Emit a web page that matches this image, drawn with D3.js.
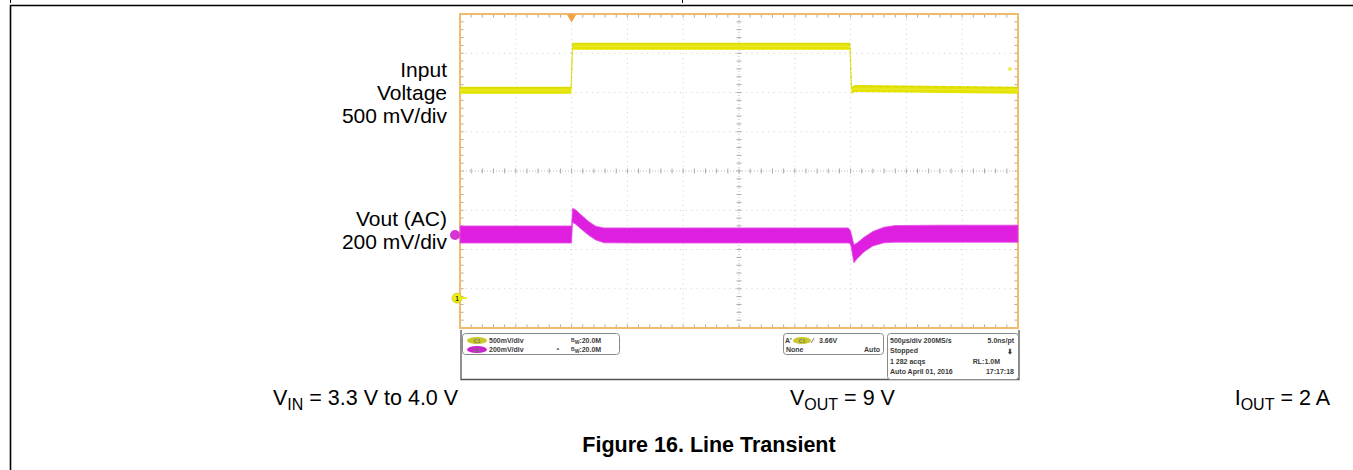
<!DOCTYPE html>
<html><head><meta charset="utf-8">
<script src="https://cdn.jsdelivr.net/npm/d3@7/dist/d3.min.js"></script>
<style>
html,body{margin:0;padding:0;background:#fff;}
svg{display:block;}
text{font-family:"Liberation Sans",Arial,sans-serif;}
</style></head>
<body>
<svg id="chart" width="1353" height="470"></svg>
<script>
// ---------------- DATA ----------------
// time axis: 500 us/div, trigger at t = 0
const timeTicksUs = [-1000,-500,0,500,1000,1500,2000,2500,3000,3500,4000];
const divTicks = [-4,-3,-2,-1,0,1,2,3,4];
// Channel 1: input voltage (500 mV/div)
const ch1TimeUs = [-1000, -4, 8, 2494, 2508, 2540, 4000];
const ch1Volts  = [3.30, 3.30, 3.86, 3.86, 3.30, 3.32, 3.30];
// Channel 2: Vout AC coupled (200 mV/div), noise envelope
const ch2TimeUs = [-1000, -6, 0, 8, 36, 90, 150, 215, 290, 600, 1200, 1800, 2480, 2500, 2530, 2560, 2620, 2700, 2800, 2900, 3300, 4000];
const ch2UpperMv = [46, 46, 46, 136, 128, 100, 70, 45, 36, 36, 36, 36, 36, 20, -50, -40, -12, 18, 40, 48, 50, 50];
const ch2LowerMv = [-41, -41, -41, 64, 55, 28, 0, -25, -40, -41, -41, -41, -41, -46, -142, -120, -86, -56, -40, -37, -37, -37];
// channel settings
const ch1Scale = 0.5, ch1Ref = 3.30, ch1Pos = 2.06;   // V/div, V at position, div
const ch2Scale = 200, ch2Pos = -1.63;                 // mV/div, div
const ch1MarkerDiv = -3.24;
const trigLevelDiv = 2.6;
// text
const leftLabels1 = ["Input", "Voltage", "500 mV/div"];
const leftLabels2 = ["Vout (AC)", "200 mV/div"];
const caption = "Figure 16. Line Transient";

// ---------------- LAYOUT ----------------
const svg = d3.select("#chart");
const x = d3.scaleLinear().domain([-1000, 4000]).range([460, 1018]);
const y = d3.scaleLinear().domain([-4, 4]).range([328, 14]);
const X0 = x.range()[0], X1 = x.range()[1], Y0 = y.range()[1], Y1 = y.range()[0];

// outer figure frame
svg.append("path").attr("d", `M10.5,470 V5.5 H1353`).attr("fill","none").attr("stroke","#000").attr("stroke-width",1.6);
svg.append("line").attr("x1",10.5).attr("x2",10.5).attr("y1",0).attr("y2",3).attr("stroke","#000");
svg.append("line").attr("x1",682.5).attr("x2",682.5).attr("y1",0).attr("y2",3).attr("stroke","#000");

const g = svg.append("g");
// graticule grid (dotted)
timeTicksUs.slice(1,-1).forEach(t => {
  if (t === 1500) return;
  g.append("line").attr("x1",x(t)).attr("x2",x(t)).attr("y1",Y0).attr("y2",Y1)
   .attr("stroke","#cfcfcf").attr("stroke-width",1).attr("stroke-dasharray","1,3.9");
});
divTicks.slice(1,-1).forEach(d => {
  if (d === 0) return;
  g.append("line").attr("x1",X0).attr("x2",X1).attr("y1",y(d)).attr("y2",y(d))
   .attr("stroke","#cfcfcf").attr("stroke-width",1).attr("stroke-dasharray","1,4.5");
});
// center axes with minor ticks
const cx = x(1500), cy = y(0);
g.append("line").attr("x1",cx).attr("x2",cx).attr("y1",Y0).attr("y2",Y1).attr("stroke","#bbb").attr("stroke-dasharray","1,2");
g.append("line").attr("x1",X0).attr("x2",X1).attr("y1",cy).attr("y2",cy).attr("stroke","#bbb").attr("stroke-dasharray","1,2");
const xMinor = d3.range(-1000, 4001, 100);
const yMinor = d3.range(-4, 4.001, 0.2);
xMinor.forEach(t => {
  g.append("line").attr("x1",x(t)).attr("x2",x(t)).attr("y1",cy-2.5).attr("y2",cy+2.5).attr("stroke","#aaa");
  g.append("line").attr("x1",x(t)).attr("x2",x(t)).attr("y1",Y0).attr("y2",Y0+3.5).attr("stroke","#b9a98a");
  g.append("line").attr("x1",x(t)).attr("x2",x(t)).attr("y1",Y1-3.5).attr("y2",Y1).attr("stroke","#b9a98a");
});
yMinor.forEach(d => {
  g.append("line").attr("x1",cx-2.5).attr("x2",cx+2.5).attr("y1",y(d)).attr("y2",y(d)).attr("stroke","#aaa");
  g.append("line").attr("x1",X0).attr("x2",X0+3.5).attr("y1",y(d)).attr("y2",y(d)).attr("stroke","#b9a98a");
  g.append("line").attr("x1",X1-3.5).attr("x2",X1).attr("y1",y(d)).attr("y2",y(d)).attr("stroke","#b9a98a");
});
// graticule border
g.append("rect").attr("x",X0).attr("y",Y0).attr("width",X1-X0).attr("height",Y1-Y0)
 .attr("fill","none").attr("stroke","#efbb6f").attr("stroke-width",2);

// channel 2 trace (envelope band)
const ch2Rows = ch2TimeUs.map((t,i)=>({t, hi: ch2UpperMv[i], lo: ch2LowerMv[i]}));
const ch2Div = mv => mv / ch2Scale + ch2Pos;
g.append("path").datum(ch2Rows)
 .attr("d", d3.area().x(d=>x(d.t)).y0(d=>y(ch2Div(d.lo))).y1(d=>y(ch2Div(d.hi))))
 .attr("fill","#df1fdf").attr("stroke","#e350e3").attr("stroke-width",0.8);

// channel 1 trace (thin band)
const ch1Rows = ch1TimeUs.map((t,i)=>({t, v: ch1Volts[i]}));
const ch1Div = v => (v - ch1Ref) / ch1Scale + ch1Pos;
g.append("path").datum(ch1Rows)
 .attr("d", d3.area().x(d=>x(d.t)).y0(d=>y(ch1Div(d.v))+3.5).y1(d=>y(ch1Div(d.v))-3.5))
 .attr("fill","#e4e400");
g.append("path").datum(ch1Rows)
 .attr("d", d3.line().x(d=>x(d.t)).y(d=>y(ch1Div(d.v))))
 .attr("fill","none").attr("stroke","#e8e830").attr("stroke-width",1.2);
g.append("path").datum(ch1Rows)
 .attr("d", d3.line().x(d=>x(d.t)).y(d=>y(ch1Div(d.v))-2.6))
 .attr("fill","none").attr("stroke","#c9c922").attr("stroke-width",0.8).attr("stroke-dasharray","3,2,1,2");

// markers
g.append("path").attr("d", d3.symbol(d3.symbolTriangle, 40)()).attr("transform",`translate(${x(0)},${Y0+3}) rotate(180)`).attr("fill","#f0a540");
g.append("circle").attr("cx",X0-5).attr("cy",y(ch2Pos)).attr("r",5).attr("fill","#d533d5");
g.append("circle").attr("cx",X0-3).attr("cy",y(ch1MarkerDiv)).attr("r",5).attr("fill","#eeee10").attr("stroke","#c8b400").attr("stroke-width",0.6);
g.append("text").attr("x",X0-3).attr("y",y(ch1MarkerDiv)+2.5).attr("text-anchor","middle").attr("font-size",6.5).attr("font-weight","bold").attr("fill","#333").text("1");
g.append("line").attr("x1",X0+2).attr("x2",X0+7).attr("y1",y(ch1MarkerDiv)).attr("y2",y(ch1MarkerDiv)).attr("stroke","#e6e600").attr("stroke-width",1.5);
g.append("circle").attr("cx",X1-8).attr("cy",y(trigLevelDiv)).attr("r",2).attr("fill","#ecec50");

// status panel
const P = svg.append("g");
P.append("path").attr("d",`M${X0+1},${Y1+2} V379.5 H${X1+1} V${Y1+2}`).attr("fill","none").attr("stroke","#555").attr("stroke-width",1.3);
function box(x0,y0,w,h){ P.append("rect").attr("x",x0).attr("y",y0).attr("width",w).attr("height",h).attr("rx",3).attr("fill","#fff").attr("stroke","#8a8a8a").attr("stroke-width",1); }
function pill(cx0,cy0,fill,lab,rx){
  P.append("ellipse").attr("cx",cx0).attr("cy",cy0).attr("rx",rx||10).attr("ry",3.6).attr("fill",fill);
  P.append("text").attr("x",cx0).attr("y",cy0+2).attr("text-anchor","middle").attr("font-size",5).attr("font-weight","bold").attr("fill","#777").text(lab);
}
function st(xx,yy,s,anchor,fs){ P.append("text").attr("x",xx).attr("y",yy).attr("font-size",fs||7).attr("font-weight","bold").attr("fill","#3a3a3a").attr("text-anchor",anchor||"start").text(s); }
box(462.5,333.5,157,21);
pill(477,340.5,"#c8c828","C1"); st(489,343,"500mV/div");
pill(477,349.5,"#cc22cc","C2"); st(489,352,"200mV/div");
st(556,352,"⁴");
[343,352].forEach(yy=>{
  const t = P.append("text").attr("x",571).attr("y",yy).attr("font-size",7).attr("font-weight","bold").attr("fill","#3a3a3a");
  t.append("tspan").attr("font-size",5).attr("dy",-1.5).text("B");
  t.append("tspan").attr("font-size",5).attr("dy",2.5).text("W");
  t.append("tspan").attr("dy",-1).text(":20.0M");
});
box(783.5,333.5,100,21);
st(785,343,"A'"); pill(802,340.5,"#c8c828","C1",9); st(812,343,"⁄"); st(819,343,"3.66V");
st(786,352,"None"); st(880,352,"Auto","end");
box(887.5,333.5,131,46);
st(890,343,"500µs/div  200MS/s"); st(1014,343,"5.0ns/pt","end");
st(890,353,"Stopped"); st(1013,354,"⬇","end");
st(890,363.5,"1 282 acqs"); st(1000,363.5,"RL:1.0M","end");
st(890,374,"Auto   April 01, 2016"); st(1014,374,"17:17:18","end");

// left labels
const L = svg.append("g").attr("font-size",21).attr("fill","#000").attr("text-anchor","end");
leftLabels1.forEach((s,i)=> L.append("text").attr("x",447).attr("y",77+i*23).text(s));
leftLabels2.forEach((s,i)=> L.append("text").attr("x",447).attr("y",226+i*23).text(s));

// bottom conditions
function subText(xx, yy, main, sub, rest, anchor){
  const t = svg.append("text").attr("x",xx).attr("y",yy).attr("font-size",21.5).attr("text-anchor",anchor||"start");
  t.append("tspan").text(main);
  t.append("tspan").attr("font-size",16).attr("dy",5).text(sub);
  t.append("tspan").attr("dy",-5).text(rest);
}
subText(273, 405, "V", "IN", " = 3.3 V to 4.0 V");
subText(790, 405, "V", "OUT", " = 9 V");
subText(1330, 405, "I", "OUT", " = 2 A", "end");
svg.append("text").attr("x",709).attr("y",452).attr("text-anchor","middle").attr("font-size",21.5).attr("font-weight","bold").text(caption);
</script>
</body></html>
